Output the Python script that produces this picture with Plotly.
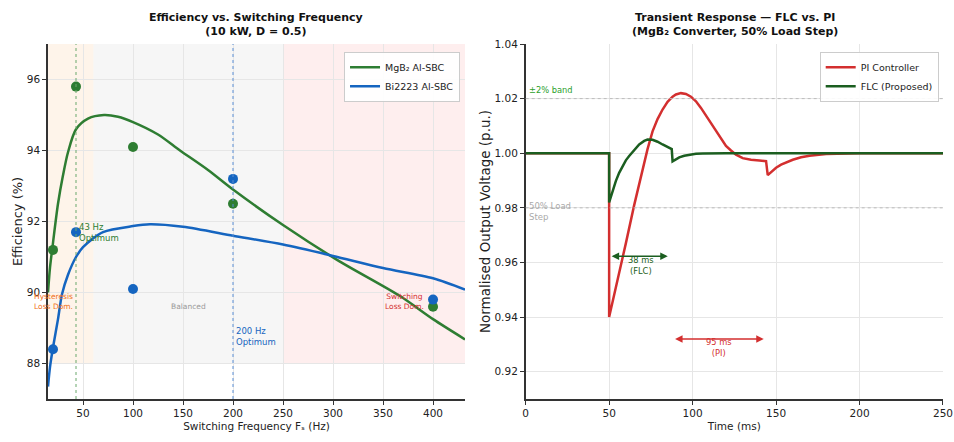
import plotly.graph_objects as go

# ---------------- Left chart data ----------------
freq_pts = [20, 43, 100, 200, 400]
mgb2_pts = [91.2, 95.8, 94.1, 92.5, 89.6]
bi_pts = [88.4, 91.7, 90.1, 93.2, 89.8]

mgb2_curve_x = [15, 17, 20, 25, 30, 35, 43, 55, 71, 85, 100, 125, 147, 175, 200, 250, 304, 367, 400, 432]
mgb2_curve_y = [90.0, 90.7, 91.4, 92.5, 93.3, 93.95, 94.6, 94.9, 95.0, 94.95, 94.8, 94.45, 94.0, 93.45, 92.9, 91.9, 90.92, 89.9, 89.25, 88.68]

bi_curve_x = [15, 17, 20, 25, 29, 35, 43, 50, 70, 100, 117, 150, 200, 250, 300, 350, 400, 432]
bi_curve_y = [87.35, 87.9, 88.45, 89.25, 89.95, 90.5, 91.0, 91.28, 91.7, 91.87, 91.92, 91.85, 91.6, 91.35, 91.03, 90.69, 90.4, 90.08]

# ---------------- Right chart data ----------------
pi_t = [0, 50, 50, 55, 60, 65, 70, 73, 76, 79, 82, 85, 88, 90, 93, 96, 99, 102, 105, 108, 111, 114, 117, 120, 123, 126, 130, 135, 140, 144, 145, 147, 150, 153, 156, 160, 165, 170, 180, 190, 200, 250]
pi_v = [1.0, 1.0, 0.94, 0.953, 0.967, 0.981, 0.994, 1.0015, 1.008, 1.0125, 1.016, 1.0188, 1.0207, 1.0215, 1.022, 1.0217, 1.0207, 1.019, 1.0166, 1.0138, 1.0108, 1.0078, 1.005, 1.0027, 1.001, 0.9995, 0.9982, 0.9976, 0.9973, 0.9971, 0.992, 0.9932, 0.9947, 0.9958, 0.9967, 0.9976, 0.9985, 0.9991, 0.9997, 0.9999, 1.0, 1.0]

flc_t = [0, 50, 50, 52, 54, 56, 58, 60, 62, 65, 68, 71, 73, 76, 79, 82, 85, 87.5, 88, 90, 92, 95, 98, 102, 106, 110, 120, 250]
flc_v = [1.0, 1.0, 0.982, 0.986, 0.9898, 0.9928, 0.9953, 0.9974, 0.999, 1.0012, 1.0032, 1.0045, 1.005, 1.0049, 1.0042, 1.0032, 1.0022, 1.0015, 0.997, 0.9978, 0.9985, 0.9991, 0.9995, 0.9998, 0.9999, 1.0, 1.0, 1.0]

C_GREEN = "#2e7d32"
C_BLUE = "#1565c0"
C_RED = "#d32f2f"
C_DGREEN = "#1b5e20"
FONT = "DejaVu Sans"

ML, MR, MT, MB = 47.7, 10.7, 44.3, 43.0
W, H = 954, 442
PW = W - ML - MR
PH = H - MT - MB


def px(xp):
    return (xp - ML) / PW


def py(yp):
    return (H - MB - yp) / PH


fig = go.Figure()

fig.add_trace(go.Scatter(x=mgb2_curve_x, y=mgb2_curve_y, mode="lines", line=dict(color=C_GREEN, width=2.5, shape="spline", smoothing=0.8),
                         name="MgB₂ Al-SBC", xaxis="x", yaxis="y", legend="legend"))
fig.add_trace(go.Scatter(x=bi_curve_x, y=bi_curve_y, mode="lines", line=dict(color=C_BLUE, width=2.5, shape="spline", smoothing=0.8),
                         name="Bi2223 Al-SBC", xaxis="x", yaxis="y", legend="legend"))
fig.add_trace(go.Scatter(x=freq_pts, y=mgb2_pts, mode="markers", marker=dict(color=C_GREEN, size=10),
                         showlegend=False, xaxis="x", yaxis="y"))
fig.add_trace(go.Scatter(x=freq_pts, y=bi_pts, mode="markers", marker=dict(color=C_BLUE, size=10),
                         showlegend=False, xaxis="x", yaxis="y"))

fig.add_trace(go.Scatter(x=pi_t, y=pi_v, mode="lines", line=dict(color=C_RED, width=2.5),
                         name="PI Controller", xaxis="x2", yaxis="y2", legend="legend2"))
fig.add_trace(go.Scatter(x=flc_t, y=flc_v, mode="lines", line=dict(color=C_DGREEN, width=2.5),
                         name="FLC (Proposed)", xaxis="x2", yaxis="y2", legend="legend2"))

shapes = []
for x0, x1, col in [(15, 60.5, "rgba(253,236,220,0.6)"), (60.5, 250, "rgba(240,240,240,0.6)"), (250, 432, "rgba(253,226,226,0.6)")]:
    shapes.append(dict(type="rect", xref="x", yref="y", x0=x0, x1=x1, y0=88, y1=97, fillcolor=col, line=dict(width=0), layer="below"))
shapes.append(dict(type="line", xref="x", yref="y domain", x0=43, x1=43, y0=0, y1=1, line=dict(color="#6aa86d", width=1, dash="dot")))
shapes.append(dict(type="line", xref="x", yref="y domain", x0=200, x1=200, y0=0, y1=1, line=dict(color="#5b8fd6", width=1, dash="dot")))
for yv in [1.02, 0.98]:
    shapes.append(dict(type="line", xref="x2 domain", yref="y2", x0=0, x1=1, y0=yv, y1=yv, line=dict(color="#bbbbbb", width=1, dash="dot")))

annotations = [
    dict(text="<b>Efficiency vs. Switching Frequency<br>(10 kW, D = 0.5)</b>", xref="paper", yref="paper", x=px(256), y=py(9),
         showarrow=False, xanchor="center", yanchor="top", font=dict(family=FONT, size=11, color="#111")),
    dict(text="<b>Transient Response — FLC vs. PI<br>(MgB₂ Converter, 50% Load Step)</b>", xref="paper", yref="paper", x=px(735), y=py(9),
         showarrow=False, xanchor="center", yanchor="top", font=dict(family=FONT, size=11, color="#111")),
    dict(text="43 Hz<br>Optimum", x=43.5, y=91.7, xref="x", yref="y", showarrow=False, xanchor="left", yanchor="middle", align="left",
         font=dict(family=FONT, size=8.5, color=C_GREEN)),
    dict(text="200 Hz<br>Optimum", x=200.5, y=88.75, xref="x", yref="y", showarrow=False, xanchor="left", yanchor="middle", align="left",
         font=dict(family=FONT, size=8.5, color=C_BLUE)),
    dict(text="Hysteresis<br>Loss Dom.", x=20, y=89.74, xref="x", yref="y", showarrow=False, xanchor="center", yanchor="middle",
         font=dict(family=FONT, size=7.5, color="#f07020")),
    dict(text="Balanced", x=155, y=89.6, xref="x", yref="y", showarrow=False, xanchor="center", yanchor="middle",
         font=dict(family=FONT, size=7.5, color="#999999")),
    dict(text="Switching<br>Loss Dom.", x=371, y=89.74, xref="x", yref="y", showarrow=False, xanchor="center", yanchor="middle",
         font=dict(family=FONT, size=7.5, color=C_RED)),
    dict(text="±2% band", x=0.5, y=1.0205, xref="x2", yref="y2", showarrow=False, xanchor="left", yanchor="bottom",
         font=dict(family=FONT, size=8.3, color="#2ca02c")),
    dict(text="50% Load<br>Step", x=0.5, y=0.9785, xref="x2", yref="y2", showarrow=False, xanchor="left", yanchor="middle", align="left",
         font=dict(family=FONT, size=8.5, color="#aaaaaa")),
    dict(x=51.5, y=0.9623, ax=86, ay=0.9623, xref="x2", yref="y2", axref="x2", ayref="y2", text="", showarrow=True,
         arrowhead=2, arrowside="end+start", arrowsize=1, arrowwidth=1.5, arrowcolor=C_DGREEN),
    dict(text="38 ms<br>(FLC)", x=69, y=0.959, xref="x2", yref="y2", showarrow=False, xanchor="center", yanchor="middle",
         font=dict(family=FONT, size=8.3, color=C_DGREEN)),
    dict(x=89.5, y=0.932, ax=143.5, ay=0.932, xref="x2", yref="y2", axref="x2", ayref="y2", text="", showarrow=True,
         arrowhead=2, arrowside="end+start", arrowsize=1, arrowwidth=1.5, arrowcolor=C_RED),
    dict(text="95 ms<br>(PI)", x=116, y=0.9288, xref="x2", yref="y2", showarrow=False, xanchor="center", yanchor="middle",
         font=dict(family=FONT, size=8.3, color=C_RED)),
]

ax_common = dict(showgrid=True, gridcolor="#e6e6e6", gridwidth=1, zeroline=False, showline=True, linecolor="#333", linewidth=1.5,
                 ticks="outside", ticklen=4, tickcolor="#333", tickfont=dict(family=FONT, size=10.5, color="#222"), automargin=False)

fig.update_layout(
    width=W, height=H, margin=dict(l=ML, r=MR, t=MT, b=MB, autoexpand=False),
    paper_bgcolor="white", plot_bgcolor="white",
    font=dict(family=FONT, color="#222"),
    xaxis=dict(domain=[0, px(465)], range=[15, 432], tickvals=[50, 100, 150, 200, 250, 300, 350, 400], anchor="y",
               title=dict(text="Switching Frequency Fₛ (Hz)", font=dict(family=FONT, size=10.5), standoff=4), **ax_common),
    yaxis=dict(domain=[0, 1], range=[87, 97], tickvals=[88, 90, 92, 94, 96], anchor="x",
               title=dict(text="Efficiency (%)", font=dict(family=FONT, size=13), standoff=1), **ax_common),
    xaxis2=dict(domain=[px(525.7), 1], range=[0, 250], tickvals=[0, 50, 100, 150, 200, 250], anchor="y2",
                title=dict(text="Time (ms)", font=dict(family=FONT, size=10.5), standoff=4), **ax_common),
    yaxis2=dict(domain=[0, 1], range=[0.91, 1.04], tickvals=[0.92, 0.94, 0.96, 0.98, 1.0, 1.02, 1.04], tickformat=".2f", anchor="x2",
                title=dict(text="Normalised Output Voltage (p.u.)", font=dict(family=FONT, size=13.5), standoff=1), **ax_common),
    legend=dict(x=px(460), y=py(52), xanchor="right", yanchor="top", bgcolor="rgba(255,255,255,0.9)", bordercolor="#cccccc",
                borderwidth=1, font=dict(family=FONT, size=9.5), itemwidth=30, tracegroupgap=2),
    legend2=dict(x=px(939), y=py(52), xanchor="right", yanchor="top", bgcolor="rgba(255,255,255,0.9)", bordercolor="#cccccc",
                 borderwidth=1, font=dict(family=FONT, size=9.5), itemwidth=30, tracegroupgap=2),
    shapes=shapes,
    annotations=annotations,
)

fig.write_html("out.html", config={"displayModeBar": False},
               post_script="document.body.style.margin='0px';document.body.style.padding='0px';")
